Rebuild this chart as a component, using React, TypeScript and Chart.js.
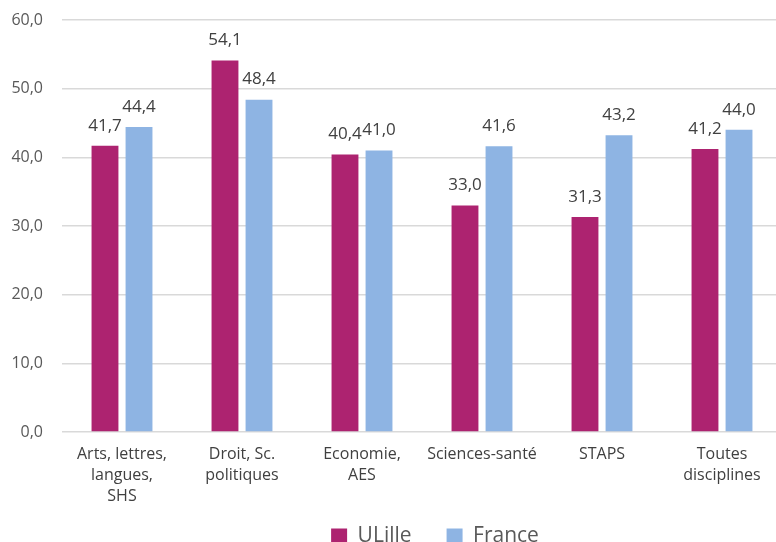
import React, { useEffect, useRef } from "react";
import { Chart, registerables } from "chart.js";

Chart.register(...registerables);

const categories: string[][] = [
  ["Arts, lettres,", "langues,", "SHS"],
  ["Droit, Sc.", "politiques"],
  ["Economie,", "AES"],
  ["Sciences-santé"],
  ["STAPS"],
  ["Toutes", "disciplines"],
];
const ulilleValues = [41.7, 54.1, 40.4, 33.0, 31.3, 41.2];
const franceValues = [44.4, 48.4, 41.0, 41.6, 43.2, 44.0];
const yTicks = [0, 10, 20, 30, 40, 50, 60];

const FONT = "'Open Sans', Lato, sans-serif";
const fmt = (v: number) => v.toFixed(1).replace(".", ",");

const valueLabels = {
  id: "valueLabels",
  afterDatasetsDraw(chart: any) {
    const ctx = chart.ctx;
    ctx.save();
    ctx.font = `17px ${FONT}`;
    ctx.fillStyle = "#404040";
    ctx.textAlign = "center";
    ctx.textBaseline = "middle";
    chart.data.datasets.forEach((ds: any, i: number) => {
      const meta = chart.getDatasetMeta(i);
      meta.data.forEach((bar: any, j: number) => {
        ctx.fillText(fmt(ds.data[j]), bar.x, bar.y - 20);
      });
    });
    ctx.restore();
  },
};

const adjustLayout = {
  id: "adjustLayout",
  afterLayout(chart: any) {
    const lg = chart.legend;
    if (lg) {
      lg.left += 44;
      lg.right += 44;
    }
    const x = chart.scales.x;
    if (x) {
      x.bottom = x.top + 85;
    }
  },
};

export default function App() {
  const ref = useRef<HTMLCanvasElement>(null);
  useEffect(() => {
    if (!ref.current) return;
    const chart = new Chart(ref.current, {
      type: "bar",
      data: {
        labels: categories,
        datasets: [
          {
            label: "ULille",
            data: ulilleValues,
            backgroundColor: "#AD2370",
            categoryPercentage: 0.567,
            barPercentage: 0.79,
          },
          {
            label: "France",
            data: franceValues,
            backgroundColor: "#8EB4E3",
            categoryPercentage: 0.567,
            barPercentage: 0.79,
          },
        ],
      },
      options: {
        responsive: false,
        animation: false,
        devicePixelRatio: 1,
        layout: { padding: { top: 20, right: 90, left: 0, bottom: 0 } },
        plugins: {
          tooltip: { enabled: false },
          legend: {
            position: "bottom",
            labels: {
              boxWidth: 16,
              boxHeight: 16,
              padding: 35,
              color: "#595959",
              font: { family: FONT, size: 21 },
            },
          },
        },
        scales: {
          x: {
            grid: { display: false, drawTicks: false },
            border: { display: false },
            ticks: {
              color: "#404040",
              font: { family: FONT, size: 16, lineHeight: 1.31 },
              padding: 12,
              maxRotation: 0,
              autoSkip: false,
            },
            afterFit: (s: any) => {
              s.height = 59;
              s.paddingTop = 0;
              s.paddingBottom = 0;
            },
          },
          y: {
            min: 0,
            max: 60,
            afterBuildTicks: (s: any) => {
              s.ticks = yTicks.map((v) => ({ value: v }));
            },
            grid: { color: "#D9D9D9", drawTicks: false, lineWidth: 1.5 },
            border: { display: false },
            ticks: {
              color: "#595959",
              font: { family: FONT, size: 16 },
              padding: 19,
              callback: (v: any) => fmt(Number(v)),
            },
            afterFit: (s: any) => {
              s.width = 62;
              s.paddingTop = 0;
              s.paddingBottom = 0;
            },
          },
        },
      },
      plugins: [valueLabels, adjustLayout],
    });
    return () => chart.destroy();
  }, []);
  return (
    <div
      style={{
        position: "absolute",
        left: 0,
        top: 0,
        width: 776,
        height: 542,
        overflow: "hidden",
        background: "#fff",
      }}
    >
      <canvas ref={ref} width={872} height={557} style={{ width: 872, height: 557 }} />
    </div>
  );
}
